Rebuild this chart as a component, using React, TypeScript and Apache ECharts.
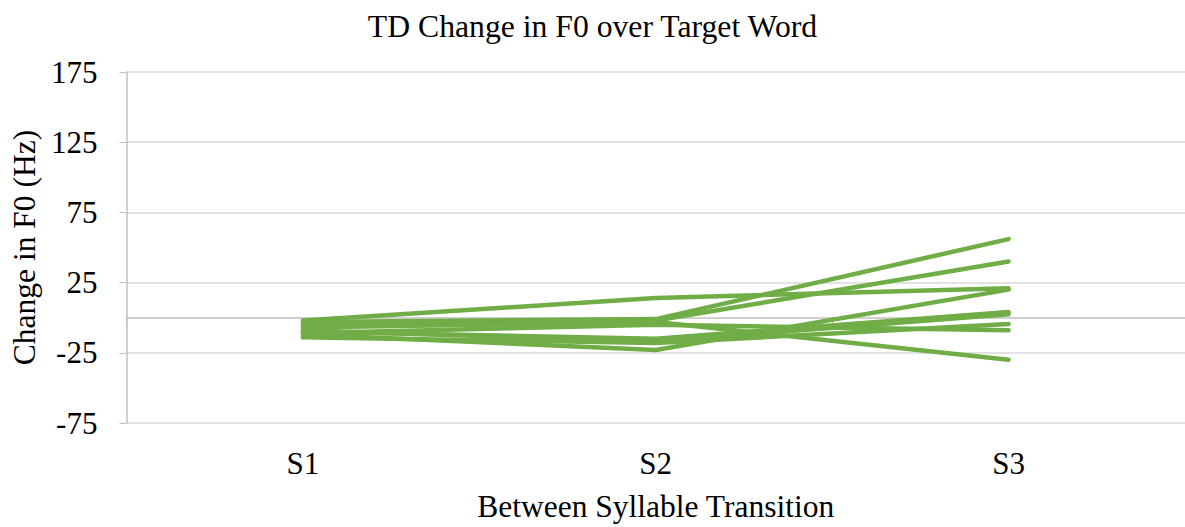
import React, { useEffect, useRef } from "react";
import * as echarts from "echarts";

const categories = ["S1", "S2", "S3"];
const series1 = [-3, -1, 56];
const series2 = [-2, 14, 21];
const series3 = [-5, -2, 40];
const series4 = [-12, -23, 20];
const series5 = [-7, -3, -30];
const series6 = [-10, -15, 4];
const series7 = [-9, -17, 2.5];
const series8 = [-14, -18, -4.5];
const series9 = [-11, -5, -9];
const allSeries = [series1, series2, series3, series4, series5, series6, series7, series8, series9];

const FONT = "'Liberation Serif', 'Times New Roman', serif";

export default function App() {
  const ref = useRef<HTMLDivElement>(null);
  useEffect(() => {
    document.body.style.margin = "0";
    const chart = echarts.init(ref.current!, null, { renderer: "svg" });
    chart.setOption({
      animation: false,
      backgroundColor: "#fff",
      title: {
        text: "TD Change in F0 over Target Word",
        left: "center",
        top: 5,
        textStyle: { fontFamily: FONT, fontSize: 31.7, fontWeight: "normal", color: "#000" },
      },
      grid: { left: 124, top: 72, bottom: 103, width: 1067 },
      xAxis: [
        {
          type: "category",
          data: categories,
          boundaryGap: true,
          axisLine: { show: false, onZero: false },
          axisTick: { show: false },
          axisLabel: { fontFamily: FONT, fontSize: 31, color: "#000", margin: 25 },
          name: "Between Syllable Transition",
          nameLocation: "middle",
          nameGap: 67,
          nameTextStyle: { fontFamily: FONT, fontSize: 31.5, color: "#000" },
        },
        {
          type: "category",
          data: categories,
          boundaryGap: true,
          position: "bottom",
          axisLine: { show: true, onZero: true, lineStyle: { color: "#BFBFBF", width: 1.5 } },
          axisTick: { show: true, length: 7, lineStyle: { color: "#BFBFBF" } },
          axisLabel: { show: false },
        },
      ],
      yAxis: {
        type: "value",
        min: -75,
        max: 175,
        interval: 50,
        axisLine: { show: true, lineStyle: { color: "#BFBFBF", width: 1.5 } },
        axisTick: { show: true, length: 7, lineStyle: { color: "#BFBFBF" } },
        axisLabel: { fontFamily: FONT, fontSize: 31, color: "#000", margin: 29 },
        splitLine: { show: true, lineStyle: { color: "#D9D9D9", width: 1.5 } },
        name: "Change in F0 (Hz)",
        nameLocation: "middle",
        nameGap: 83,
        nameTextStyle: { fontFamily: FONT, fontSize: 31.5, color: "#000" },
      },
      series: allSeries.map((d, i) => ({
        name: "P" + (i + 1),
        type: "line",
        data: d,
        xAxisIndex: 0,
        symbol: "none",
        lineStyle: { color: "#70AD47", width: 4.5, cap: "round", join: "round" },
      })),
    });
    return () => chart.dispose();
  }, []);
  return <div ref={ref} style={{ width: 1185, height: 527 }} />;
}
